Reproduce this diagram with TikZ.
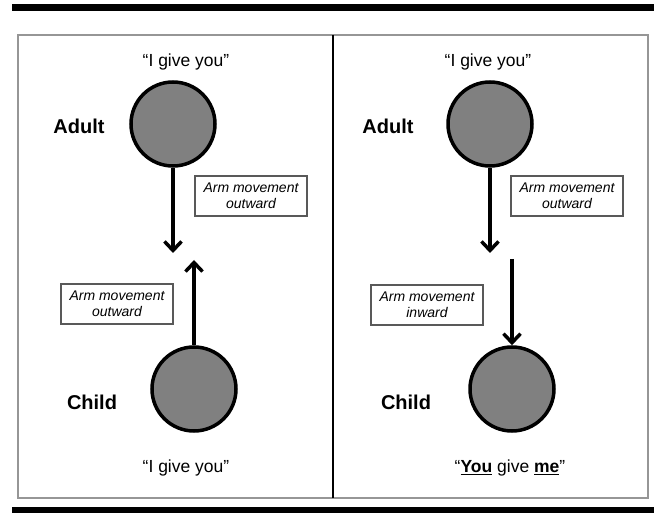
\documentclass[tikz,border=0pt]{standalone}
\usepackage{fontspec}
\setmainfont{Liberation Sans}
\usetikzlibrary{arrows.meta}
\definecolor{discgray}{RGB}{128,128,128}
\definecolor{framegray}{RGB}{150,150,150}
\tikzstyle{person}=[circle, draw=black, fill=discgray, line width=3.5pt, minimum size=84pt, inner sep=0pt]
\tikzstyle{role}=[font=\fontsize{20}{24}\selectfont\bfseries]
\tikzstyle{speech}=[font=\fontsize{17.5}{21}\selectfont]
\tikzstyle{note}=[rectangle, draw=black!65, line width=1.1pt, minimum width=112pt, minimum height=40pt, align=center, inner sep=0pt, font=\fontsize{14}{16}\selectfont\itshape]
\tikzstyle{arm}=[line width=3.5pt, -{Straight Barb[length=9pt,width=17pt]}]

\begin{document}
\begin{tikzpicture}[x=1pt, y=-1pt]
    \useasboundingbox (0,0) rectangle (654,513);

    % rules and frame
    \fill[black] (12,4) rectangle (654,11);
    \fill[black] (12,507) rectangle (654,513);
    \draw[framegray, line width=1.5pt] (18,35) rectangle (648,498);
    \draw[black, line width=1.5pt] (333,35) -- (333,498);

    % left panel
    \node (sayAL) at (186, 62) [speech] {“I give you”};
    \node (roleAL) at (79, 126) [role] {Adult};
    \node (adultL) at (173, 124) [person] {};
    \node (noteLa) at (251, 196) [note] {Arm movement\\outward};
    \node (noteLb) at (117, 304) [note] {Arm movement\\outward};
    \node (roleCL) at (92, 402) [role] {Child};
    \node (childL) at (194, 389) [person] {};
    \node (sayCL) at (186, 468) [speech] {“I give you”};
    \coordinate (tipAL) at (173, 253);
    \coordinate (tipCL) at (194, 260);

    \draw[arm] (adultL) -- (tipAL);
    \draw[arm] (childL) -- (tipCL);

    % right panel
    \node (sayAR) at (488, 62) [speech] {“I give you”};
    \node (roleAR) at (388, 126) [role] {Adult};
    \node (adultR) at (490, 124) [person] {};
    \node (noteRa) at (567, 196) [note] {Arm movement\\outward};
    \node (noteRb) at (427, 305) [note] {Arm movement\\inward};
    \node (roleCR) at (406, 402) [role] {Child};
    \node (childR) at (512, 389) [person] {};
    \node (sayCR) at (510, 468) [speech] {“\underline{\textbf{You}} give \underline{\textbf{me}}”};
    \coordinate (tipAR) at (490, 253);
    \coordinate (startCR) at (512, 259);

    \draw[arm] (adultR) -- (tipAR);
    \draw[arm] (startCR) -- (childR);
\end{tikzpicture}
\end{document}
